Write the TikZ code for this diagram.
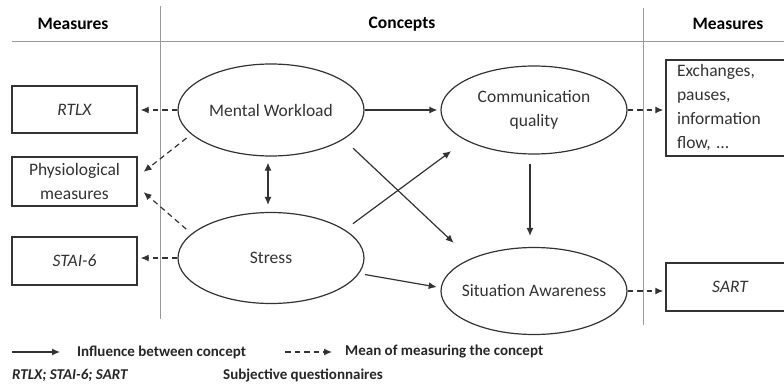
\documentclass[tikz,border=0pt]{standalone}
\usepackage{fontspec}
\setmainfont{Carlito}
\usetikzlibrary{shapes.geometric,arrows.meta,calc}
\definecolor{ink}{HTML}{333333}
\definecolor{sepc}{HTML}{9A9A9A}
\newcommand{\dgNode}{\fontsize{17.5}{24}\selectfont}
\newcommand{\dgHdr}{\fontsize{17.5}{20}\selectfont\bfseries}
\newcommand{\dgLeg}{\fontsize{15}{18}\selectfont\bfseries}
\begin{document}
\begin{tikzpicture}[x=1pt,y=-1pt,
  ell/.style={ellipse, draw=ink, line width=1.2pt, inner sep=0pt, minimum width=186pt},
  etext/.style={text=ink, font=\dgNode, align=center},
  box/.style={rectangle, draw=ink, line width=1.4pt, inner sep=0pt, text=ink, font=\dgNode, align=center},
  infl/.style={draw=ink, line width=1.2pt, -{Latex[length=8pt,width=7pt]}},
  meas/.style={infl, dash pattern=on 5.5pt off 4pt},
  hdr/.style={font=\dgHdr, text=black, inner sep=0pt},
  leg/.style={font=\dgLeg, text=black!85, inner sep=0pt, anchor=west},
  sepline/.style={draw=sepc, line width=0.9pt}]
\useasboundingbox (0,0) rectangle (784,385);

% separators
\draw[sepline] (12,41) -- (784,41);
\draw[sepline] (160,6) -- (160,319);
\draw[sepline] (643,8) -- (643,325);

% headers
\node[hdr] (h1) at (73,24) {Measures};
\node[hdr] (h2) at (402,24) {Concepts};
\node[hdr] (h3) at (728,24) {Measures};

% concepts
\node[ell, minimum height=92pt, label={[etext]center:Mental Workload}] (mw) at (271,110) {};
\node[ell, minimum height=91pt, label={[etext]center:Stress}] (st) at (271,258) {};
\node[ell, minimum height=88pt, label={[etext]center:Communication\\quality}] (cq) at (534,110) {};
\node[ell, minimum height=87pt, label={[etext]center:Situation Awareness}] (sa) at (534,291) {};

% measures
\node[box, minimum width=125pt, minimum height=47pt] (rtlx) at (74.5,109.5) {\itshape RTLX};
\node[box, minimum width=125pt, minimum height=49pt] (physio) at (74.5,181.5) {Physiological\\measures};
\node[box, minimum width=125pt, minimum height=48pt] (stai) at (74.5,261) {\itshape STAI-6};
\node[box, align=left, inner xsep=11pt, text width=112pt, minimum height=96pt] (exch) at (733,108) {Exchanges,\\pauses,\\information\\flow, …};
\node[box, minimum width=128pt, minimum height=48pt] (sart) at (730,287) {\itshape SART};

% measuring connectors
\draw[meas, shorten >=3pt] (mw.west) -- (mw.west -| rtlx.east);
\draw[meas, shorten <=6pt, shorten >=7.5pt] (mw.197) -- ([yshift=5pt]physio.east);
\draw[meas, shorten <=7pt, shorten >=7.8pt] (st.163) -- ([yshift=-5.5pt]physio.east);
\draw[meas, shorten >=3pt] (st.west) -- (st.west -| stai.east);
\draw[meas, shorten >=2pt] (cq.east) -- (cq.east -| exch.west);
\draw[meas, shorten >=2pt] (sa.east) -- (sa.east -| sart.west);

% influence connectors
\draw[infl, {Latex[length=8pt,width=7pt]}-{Latex[length=8pt,width=7pt]}, shorten <=6pt, shorten >=7pt] ([xshift=-3pt]mw.south) -- ([xshift=-3pt]st.north);
\draw[infl, shorten >=3pt] (mw.east) -- (cq.west);
\draw[infl, shorten <=13pt, shorten >=23pt] (mw.-22) -- (sa.153);
\draw[infl, shorten <=10pt, shorten >=18pt] (st.21) -- (cq.204);
\draw[infl, shorten <=6pt, shorten >=4pt] (st.-10) -- (sa.178);
\draw[infl, shorten <=9pt, shorten >=11pt] ([xshift=-4pt]cq.south) -- ([xshift=-4pt]sa.north);

% legend
\coordinate (la1) at (12,352);
\coordinate (la2) at (60,352);
\draw[infl] (la1) -- (la2);
\node[leg] (lt1) at (77,352) {Influence between concept};
\coordinate (lb1) at (285,352);
\coordinate (lb2) at (332,352);
\draw[meas] (lb1) -- (lb2);
\node[leg] (lt2) at (345,352) {Mean of measuring the concept};
\node[leg] (lt3) at (12,375) {\itshape RTLX; STAI-6; SART};
\node[leg] (lt4) at (223,375) {Subjective questionnaires};
\end{tikzpicture}
\end{document}
